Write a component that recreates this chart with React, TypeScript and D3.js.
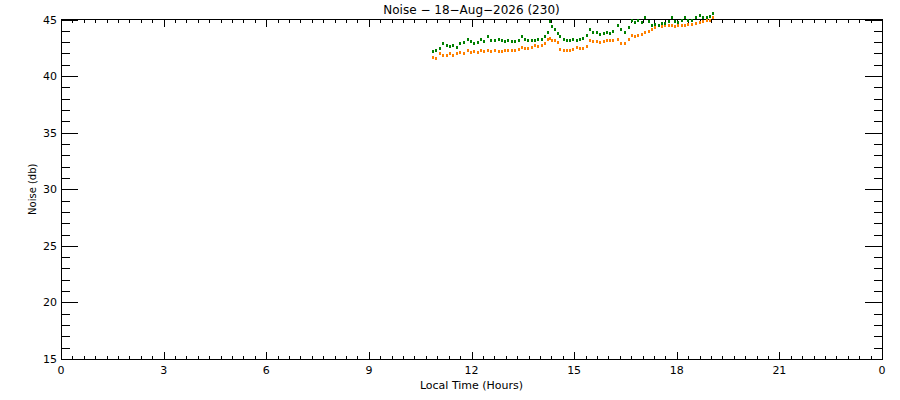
import React from "react";
import { useEffect, useRef } from "react";
import * as d3 from "d3";

const titleText = "Noise \u2212 18\u2212Aug\u22122026 (230)";
const xTitle = "Local Time (Hours)";
const yTitle = "Noise (db)";

const xTickValues = [0, 3, 6, 9, 12, 15, 18, 21, 24];
const xTickLabels = ["0", "3", "6", "9", "12", "15", "18", "21", "0"];
const yTickValues = [15, 20, 25, 30, 35, 40, 45];

// hours of each sample
const hours = [
  10.86, 10.97, 11.08, 11.17, 11.28, 11.38, 11.47, 11.57, 11.67, 11.77,
  11.89, 11.98, 12.08, 12.18, 12.28, 12.38, 12.48, 12.58, 12.69, 12.79,
  12.89, 12.98, 13.08, 13.18, 13.28, 13.38, 13.47, 13.56, 13.66, 13.76,
  13.86, 13.95, 14.05, 14.15, 14.25, 14.3, 14.36, 14.44, 14.52, 14.6,
  14.69, 14.78, 14.88, 14.98, 15.08, 15.18, 15.27, 15.37, 15.47, 15.56,
  15.66, 15.76, 15.86, 15.95, 16.05, 16.15, 16.27, 16.38, 16.49, 16.59,
  16.69, 16.78, 16.88, 16.98, 17.08, 17.18, 17.27, 17.37, 17.47, 17.56,
  17.66, 17.76, 17.86, 17.95, 18.05, 18.15, 18.25, 18.34, 18.44, 18.56,
  18.68, 18.78, 18.88, 18.97, 19.05,
];

const greenNoise = [
  42.2, 42.3, 42.5, 42.9, 42.75, 42.7, 42.75, 42.6, 42.9, 43.0,
  43.3, 43.1, 42.9, 43.0, 43.3, 43.1, 43.5, 43.2, 43.2, 43.3,
  43.2, 43.1, 43.2, 43.1, 43.1, 43.2, 43.5, 43.3, 43.2, 43.2,
  43.2, 43.3, 43.3, 43.5, 43.9, 44.9, 44.4, 44.2, 43.8, 43.5,
  43.3, 43.2, 43.2, 43.3, 43.2, 43.3, 43.4, 43.6, 44.2, 43.9,
  43.9, 43.7, 43.8, 43.9, 43.8, 44.0, 44.5, 44.2, 43.9, 44.3,
  45.0, 44.8, 45.0, 44.8, 45.2, 44.9, 44.5, 44.6, 44.5, 44.7,
  44.7, 44.9, 45.2, 44.9, 44.8, 45.0, 45.2, 45.0, 45.0, 45.2,
  45.4, 45.2, 45.2, 45.3, 45.55,
];

const orangeNoise = [
  41.7, 41.6, 42.0, 41.9, 41.9, 42.0, 41.9, 42.0, 42.15, 42.0,
  42.3, 42.1, 42.2, 42.1, 42.3, 42.2, 42.3, 42.2, 42.3, 42.2,
  42.2, 42.3, 42.3, 42.3, 42.3, 42.4, 42.6, 42.5, 42.5, 42.6,
  42.75, 42.7, 42.75, 42.9, 43.3, 43.4, 43.2, 43.2, 43.0, 42.4,
  42.3, 42.3, 42.3, 42.4, 42.6, 42.5, 42.5, 42.7, 43.2, 43.1,
  43.1, 43.0, 43.1, 43.2, 43.2, 43.2, 43.3, 42.9, 42.9, 43.3,
  43.6, 43.5, 43.6, 43.7, 43.9, 44.0, 44.2, 44.3, 44.5, 44.4,
  44.5, 44.5, 44.5, 44.4, 44.5, 44.5, 44.5, 44.6, 44.6, 44.7,
  44.8, 44.9, 45.0, 45.0, 45.2,
];

const App = () => {
  const ref = useRef<SVGSVGElement>(null);

  useEffect(() => {
    document.body.style.margin = "0";
    drawChart();
  }, []);

  function drawChart() {
    const width = 900;
    const height = 400;
    const margin = { top: 19.5, right: 18, bottom: 41, left: 61 };
    const font = "'DejaVu Sans', sans-serif";

    const svg = d3.select(ref.current);
    svg.selectAll("*").remove();
    svg.attr("width", width).attr("height", height);

    const xScale = d3
      .scaleLinear()
      .domain([0, 24])
      .range([margin.left, width - margin.right]);
    const yScale = d3
      .scaleLinear()
      .domain([15, 45])
      .range([height - margin.bottom, margin.top]);

    const x0 = margin.left;
    const x1 = width - margin.right;
    const y0 = height - margin.bottom;
    const y1 = margin.top;

    // minor tick positions (every 20 min, every 1 db)
    const xMinor = d3.range(0, 24 * 3 + 1).map((i) => i / 3);
    const yMinor = d3.range(15, 46);

    const g = svg.append("g").attr("shape-rendering", "crispEdges");

    const addAxis = (axis: any, tx: number, ty: number) => {
      const a = g
        .append("g")
        .attr("transform", `translate(${tx},${ty})`)
        .call(axis);
      a.select(".domain").remove();
      a.selectAll("line").attr("stroke", "#000");
      return a;
    };

    // x axes (bottom and top), ticks inward
    addAxis(d3.axisBottom(xScale).tickValues(xMinor).tickSize(-3.5).tickFormat(() => ""), 0, y0);
    addAxis(d3.axisBottom(xScale).tickValues(xTickValues).tickSize(-7).tickFormat(() => ""), 0, y0);
    addAxis(d3.axisTop(xScale).tickValues(xMinor).tickSize(-3.5).tickFormat(() => ""), 0, y1);
    addAxis(d3.axisTop(xScale).tickValues(xTickValues).tickSize(-7).tickFormat(() => ""), 0, y1);

    // y axes (left and right)
    addAxis(d3.axisLeft(yScale).tickValues(yMinor).tickSize(-8.5).tickFormat(() => ""), x0, 0);
    addAxis(d3.axisLeft(yScale).tickValues(yTickValues).tickSize(-17).tickFormat(() => ""), x0, 0);
    addAxis(d3.axisRight(yScale).tickValues(yMinor).tickSize(-8.5).tickFormat(() => ""), x1, 0);
    addAxis(d3.axisRight(yScale).tickValues(yTickValues).tickSize(-17).tickFormat(() => ""), x1, 0);

    // frame
    g.append("rect")
      .attr("x", x0)
      .attr("y", y1)
      .attr("width", x1 - x0)
      .attr("height", y0 - y1)
      .attr("fill", "none")
      .attr("stroke", "#000");

    // tick labels
    svg
      .append("g")
      .selectAll("text")
      .data(xTickValues)
      .join("text")
      .attr("x", (d) => xScale(d))
      .attr("y", y0 + 15)
      .attr("text-anchor", "middle")
      .attr("font-family", font)
      .attr("font-size", 11)
      .text((d, i) => xTickLabels[i]);

    svg
      .append("g")
      .selectAll("text")
      .data(yTickValues)
      .join("text")
      .attr("x", x0 - 4)
      .attr("y", (d) => yScale(d) + 4)
      .attr("text-anchor", "end")
      .attr("font-family", font)
      .attr("font-size", 11)
      .text((d) => String(d));

    // titles
    svg
      .append("text")
      .attr("x", (x0 + x1) / 2)
      .attr("y", 14)
      .attr("text-anchor", "middle")
      .attr("font-family", font)
      .attr("font-size", 12)
      .text(titleText);

    svg
      .append("text")
      .attr("x", (x0 + x1) / 2)
      .attr("y", 389)
      .attr("text-anchor", "middle")
      .attr("font-family", font)
      .attr("font-size", 11)
      .text(xTitle);

    svg
      .append("text")
      .attr("transform", `translate(36,${(y0 + y1) / 2}) rotate(-90)`)
      .attr("text-anchor", "middle")
      .attr("font-family", font)
      .attr("font-size", 10)
      .text(yTitle);

    // data, drawn as small dots
    const series = [
      { values: orangeNoise, color: "#ff8000" },
      { values: greenNoise, color: "#008000" },
    ];

    series.forEach((s) => {
      svg
        .append("g")
        .attr("shape-rendering", "crispEdges")
        .selectAll("rect")
        .data(s.values)
        .join("rect")
        .attr("x", (d, i) => Math.round(xScale(hours[i])) - 1)
        .attr("y", (d) => Math.round(yScale(d)) - 1)
        .attr("width", 2)
        .attr("height", 3)
        .attr("fill", s.color);
    });
  }

  return <svg ref={ref} style={{ display: "block" }} />;
};

export default App;
